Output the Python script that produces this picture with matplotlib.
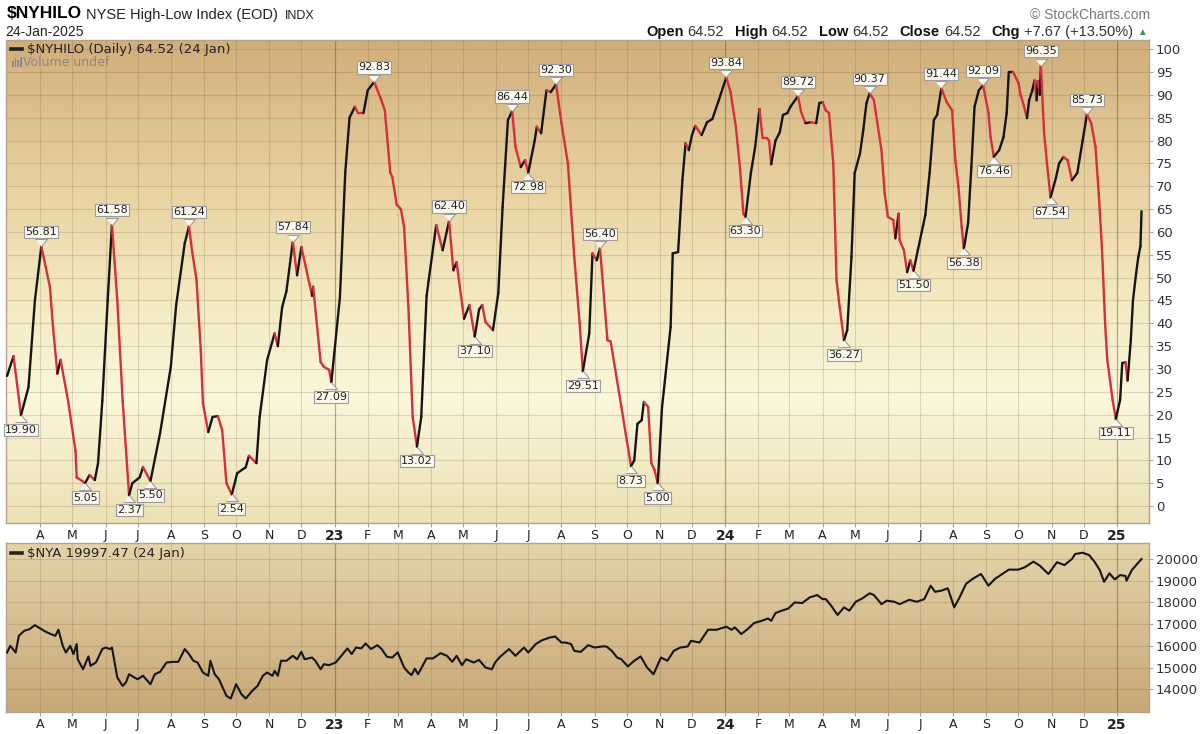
import numpy as np
import pandas as pd
import matplotlib
matplotlib.use('Agg')
import matplotlib.pyplot as plt
import matplotlib.dates as mdates
from matplotlib.collections import LineCollection
from matplotlib.transforms import offset_copy
from matplotlib.lines import Line2D
from matplotlib.patches import Rectangle

# ---------------- data ----------------
hilo_dates = [
    "2022-03-01", "2022-03-07", "2022-03-14", "2022-03-21", "2022-03-27", "2022-04-02", "2022-04-10",
    "2022-04-13", "2022-04-17", "2022-04-20", "2022-04-27", "2022-05-04", "2022-05-05", "2022-05-13",
    "2022-05-17", "2022-05-22", "2022-05-25", "2022-05-29", "2022-06-03", "2022-06-07", "2022-06-12",
    "2022-06-17", "2022-06-23", "2022-06-26", "2022-07-03", "2022-07-06", "2022-07-13", "2022-07-22",
    "2022-08-01", "2022-08-06", "2022-08-14", "2022-08-18", "2022-08-21", "2022-08-25", "2022-08-29",
    "2022-08-31", "2022-09-05", "2022-09-09", "2022-09-14", "2022-09-18", "2022-09-22", "2022-09-27",
    "2022-10-02", "2022-10-10", "2022-10-13", "2022-10-20", "2022-10-23", "2022-10-30", "2022-11-06",
    "2022-11-09", "2022-11-13", "2022-11-17", "2022-11-23", "2022-11-27", "2022-12-01", "2022-12-11",
    "2022-12-12", "2022-12-19", "2022-12-22", "2022-12-27", "2022-12-29", "2023-01-06", "2023-01-11",
    "2023-01-15", "2023-01-20", "2023-01-23", "2023-01-28", "2023-02-01", "2023-02-07", "2023-02-13",
    "2023-02-17", "2023-02-22", "2023-02-24", "2023-02-28", "2023-03-04", "2023-03-07", "2023-03-11",
    "2023-03-15", "2023-03-19", "2023-03-23", "2023-03-28", "2023-03-30", "2023-04-06", "2023-04-12",
    "2023-04-18", "2023-04-22", "2023-04-25", "2023-05-02", "2023-05-07", "2023-05-12", "2023-05-16",
    "2023-05-19", "2023-05-22", "2023-05-29", "2023-06-03", "2023-06-07", "2023-06-12", "2023-06-16",
    "2023-06-19", "2023-06-24", "2023-06-28", "2023-07-01", "2023-07-07", "2023-07-09", "2023-07-13",
    "2023-07-18", "2023-07-22", "2023-07-27", "2023-08-01", "2023-08-07", "2023-08-13", "2023-08-18",
    "2023-08-21", "2023-08-27", "2023-08-30", "2023-09-03", "2023-09-06", "2023-09-13", "2023-09-16",
    "2023-09-26", "2023-10-01", "2023-10-05", "2023-10-08", "2023-10-11", "2023-10-15", "2023-10-17",
    "2023-10-21", "2023-10-24", "2023-10-27", "2023-10-30", "2023-11-03", "2023-11-06", "2023-11-11",
    "2023-11-13", "2023-11-18", "2023-11-22", "2023-11-25", "2023-11-28", "2023-12-01", "2023-12-04",
    "2023-12-10", "2023-12-15", "2023-12-20", "2023-12-26", "2024-01-02", "2024-01-06", "2024-01-11",
    "2024-01-15", "2024-01-18", "2024-01-20", "2024-01-25", "2024-01-29", "2024-02-02", "2024-02-05",
    "2024-02-09", "2024-02-11", "2024-02-13", "2024-02-17", "2024-02-21", "2024-02-24", "2024-02-28",
    "2024-03-02", "2024-03-09", "2024-03-12", "2024-03-16", "2024-03-21", "2024-03-26", "2024-03-29",
    "2024-04-01", "2024-04-04", "2024-04-07", "2024-04-11", "2024-04-14", "2024-04-17", "2024-04-21",
    "2024-04-24", "2024-04-28", "2024-05-01", "2024-05-06", "2024-05-09", "2024-05-12", "2024-05-15",
    "2024-05-19", "2024-05-26", "2024-05-29", "2024-06-01", "2024-06-06", "2024-06-08", "2024-06-11",
    "2024-06-12", "2024-06-16", "2024-06-19", "2024-06-22", "2024-06-25", "2024-06-29", "2024-07-04",
    "2024-07-06", "2024-07-10", "2024-07-14", "2024-07-17", "2024-07-21", "2024-07-26", "2024-07-31",
    "2024-08-03", "2024-08-06", "2024-08-09", "2024-08-11", "2024-08-15", "2024-08-18", "2024-08-21",
    "2024-08-25", "2024-08-29", "2024-09-03", "2024-09-05", "2024-09-08", "2024-09-13", "2024-09-17",
    "2024-09-20", "2024-09-22", "2024-09-26", "2024-10-01", "2024-10-03", "2024-10-06", "2024-10-09",
    "2024-10-11", "2024-10-14", "2024-10-16", "2024-10-18", "2024-10-19", "2024-10-21", "2024-10-22",
    "2024-10-25", "2024-10-28", "2024-10-31", "2024-11-05", "2024-11-08", "2024-11-12", "2024-11-16",
    "2024-11-20", "2024-11-25", "2024-11-30", "2024-12-04", "2024-12-08", "2024-12-12", "2024-12-15",
    "2024-12-18", "2024-12-21", "2024-12-23", "2024-12-28", "2024-12-31", "2025-01-04", "2025-01-06",
    "2025-01-09", "2025-01-11", "2025-01-14", "2025-01-16", "2025-01-19", "2025-01-21", "2025-01-23",
    "2025-01-24",
]
hilo_values = [
    28.5, 32.8, 19.90, 26.0, 45.0, 56.81, 48.0,
    39.0, 29.0, 32.0, 23.0, 12.0, 6.3, 5.05,
    6.8, 5.7, 9.4, 23.0, 45.0, 61.58, 45.0,
    23.0, 2.37, 5.0, 6.3, 8.5, 5.50, 16.0,
    30.5, 44.0, 57.5, 61.24, 55.6, 49.5, 34.0,
    22.5, 16.2, 19.5, 19.7, 16.6, 5.0, 2.54,
    7.2, 8.5, 11.0, 9.4, 19.5, 32.0, 37.8,
    35.0, 43.5, 47.0, 57.84, 50.5, 56.7, 46.0,
    48.0, 31.5, 30.5, 29.8, 27.09, 45.7, 73.0,
    85.0, 87.4, 86.0, 86.0, 91.0, 92.83, 89.3,
    86.6, 73.0, 72.0, 66.0, 65.0, 61.0, 43.5,
    19.5, 13.02, 19.5, 46.0, 49.5, 61.5, 56.0,
    62.40, 51.6, 53.4, 41.0, 44.0, 37.10, 43.0,
    44.0, 40.3, 38.5, 46.6, 65.4, 84.5, 86.44,
    78.6, 74.2, 75.7, 72.98, 80.0, 83.0, 81.6,
    91.0, 90.6, 92.30, 83.8, 75.0, 54.5, 40.0,
    29.51, 37.8, 55.3, 53.8, 56.40, 36.3, 36.0,
    21.7, 14.4, 8.73, 10.0, 18.0, 18.8, 22.8,
    21.7, 9.4, 7.9, 5.00, 21.7, 28.2, 39.2,
    55.3, 55.6, 71.3, 79.4, 77.9, 81.2, 83.2,
    81.2, 84.0, 84.7, 88.8, 93.84, 90.6, 83.0,
    73.5, 64.0, 63.30, 72.9, 78.6, 86.9, 80.5,
    80.5, 80.0, 74.8, 80.0, 81.8, 85.6, 86.0,
    87.4, 89.72, 86.2, 83.8, 84.0, 83.8, 88.2,
    88.4, 86.6, 86.0, 75.0, 49.5, 43.5, 36.27,
    38.5, 54.5, 72.9, 77.2, 82.3, 88.2, 90.37,
    88.8, 77.9, 68.5, 63.3, 62.6, 58.6, 64.0,
    58.2, 56.0, 51.2, 53.8, 51.50, 56.0, 61.5,
    63.7, 72.9, 84.5, 85.6, 91.44, 88.4, 86.6,
    75.7, 69.8, 61.0, 56.38, 62.0, 74.2, 87.4,
    91.0, 92.09, 86.0, 80.7, 76.46, 77.9, 80.7,
    86.0, 95.0, 95.0, 92.6, 90.0, 87.7, 84.9,
    88.8, 91.0, 93.2, 88.8, 93.0, 90.0, 96.35,
    81.6, 74.2, 67.54, 71.8, 75.0, 76.4, 75.7,
    71.3, 72.9, 80.0, 85.73, 83.8, 78.6, 68.5,
    56.7, 40.0, 32.0, 23.2, 19.11, 23.2, 31.3,
    31.5, 27.5, 36.3, 45.0, 51.0, 54.5, 56.85,
    64.52,
]

nya_dates = [
    "2022-03-01", "2022-03-04", "2022-03-09", "2022-03-12", "2022-03-17", "2022-03-22", "2022-03-27",
    "2022-04-01", "2022-04-06", "2022-04-11", "2022-04-15", "2022-04-18", "2022-04-22", "2022-04-25",
    "2022-04-29", "2022-05-02", "2022-05-05", "2022-05-06", "2022-05-11", "2022-05-16", "2022-05-18",
    "2022-05-23", "2022-05-29", "2022-06-01", "2022-06-05", "2022-06-07", "2022-06-10", "2022-06-12",
    "2022-06-17", "2022-06-20", "2022-06-23", "2022-06-28", "2022-07-01", "2022-07-06", "2022-07-13",
    "2022-07-17", "2022-07-22", "2022-07-28", "2022-08-03", "2022-08-08", "2022-08-14", "2022-08-18",
    "2022-08-22", "2022-08-26", "2022-08-31", "2022-09-05", "2022-09-07", "2022-09-11", "2022-09-15",
    "2022-09-22", "2022-09-26", "2022-10-01", "2022-10-06", "2022-10-10", "2022-10-16", "2022-10-21",
    "2022-10-26", "2022-10-30", "2022-11-04", "2022-11-06", "2022-11-09", "2022-11-12", "2022-11-17",
    "2022-11-23", "2022-11-27", "2022-12-01", "2022-12-04", "2022-12-11", "2022-12-14", "2022-12-19",
    "2022-12-22", "2022-12-27", "2023-01-02", "2023-01-06", "2023-01-13", "2023-01-17", "2023-01-21",
    "2023-01-26", "2023-01-30", "2023-02-04", "2023-02-10", "2023-02-14", "2023-02-19", "2023-02-24",
    "2023-03-01", "2023-03-07", "2023-03-11", "2023-03-14", "2023-03-17", "2023-03-20", "2023-03-28",
    "2023-04-03", "2023-04-10", "2023-04-16", "2023-04-21", "2023-04-25", "2023-04-30", "2023-05-04",
    "2023-05-11", "2023-05-16", "2023-05-22", "2023-05-28", "2023-05-31", "2023-06-05", "2023-06-13",
    "2023-06-19", "2023-06-27", "2023-07-01", "2023-07-08", "2023-07-14", "2023-07-21", "2023-07-26",
    "2023-08-01", "2023-08-05", "2023-08-10", "2023-08-13", "2023-08-19", "2023-08-26", "2023-09-01",
    "2023-09-08", "2023-09-12", "2023-09-17", "2023-09-22", "2023-09-26", "2023-10-02", "2023-10-08",
    "2023-10-14", "2023-10-20", "2023-10-26", "2023-11-02", "2023-11-08", "2023-11-14", "2023-11-20",
    "2023-11-27", "2023-11-30", "2023-12-08", "2023-12-16", "2023-12-24", "2024-01-02", "2024-01-07",
    "2024-01-10", "2024-01-16", "2024-01-22", "2024-01-28", "2024-02-04", "2024-02-10", "2024-02-13",
    "2024-02-17", "2024-02-23", "2024-02-29", "2024-03-06", "2024-03-13", "2024-03-20", "2024-03-27",
    "2024-04-01", "2024-04-04", "2024-04-09", "2024-04-15", "2024-04-21", "2024-04-26", "2024-05-02",
    "2024-05-08", "2024-05-15", "2024-05-19", "2024-05-26", "2024-05-31", "2024-06-07", "2024-06-12",
    "2024-06-21", "2024-06-28", "2024-07-05", "2024-07-11", "2024-07-15", "2024-07-21", "2024-07-27",
    "2024-08-02", "2024-08-07", "2024-08-13", "2024-08-19", "2024-08-27", "2024-09-03", "2024-09-09",
    "2024-09-16", "2024-09-22", "2024-10-01", "2024-10-07", "2024-10-15", "2024-10-21", "2024-10-29",
    "2024-11-06", "2024-11-13", "2024-11-20", "2024-11-23", "2024-11-30", "2024-12-06", "2024-12-11",
    "2024-12-16", "2024-12-20", "2024-12-25", "2024-12-30", "2025-01-04", "2025-01-09", "2025-01-10",
    "2025-01-15", "2025-01-19", "2025-01-24",
]
nya_values = [
    15692, 16000, 15690, 16460, 16690, 16770, 16950,
    16800, 16650, 16540, 16460, 16740, 16000, 15690,
    16000, 15620, 16080, 15380, 14920, 15510, 15080,
    15230, 15850, 15920, 15850, 15920, 15080, 14540,
    14150, 14310, 14690, 14540, 14460, 14620, 14230,
    14690, 14800, 15230, 15260, 15260, 15850, 15620,
    15310, 15230, 14770, 14620, 15310, 14690, 14460,
    13690, 13570, 14230, 13770, 13570, 13920, 14150,
    14620, 14770, 14620, 14850, 14620, 15310, 15310,
    15540, 15380, 15720, 15380, 15460, 15310, 14920,
    15150, 15110, 15230, 15460, 15880, 15620, 15920,
    15880, 16110, 15850, 16030, 15850, 15490, 15460,
    15700, 15000, 14770, 14650, 14950, 14690, 15420,
    15420, 15660, 15540, 15260, 15540, 15110, 15380,
    15230, 15350, 15000, 14920, 15230, 15510, 15850,
    15540, 15920, 15690, 16080, 16260, 16380, 16430,
    16150, 16150, 16080, 15770, 15720, 16030, 15920,
    15970, 15970, 15770, 15460, 15380, 15050, 15310,
    15510, 15000, 14690, 15460, 15310, 15770, 15920,
    15970, 16230, 16150, 16740, 16740, 16880, 16740,
    16850, 16540, 16770, 17050, 17150, 17260, 17150,
    17510, 17620, 17720, 18000, 17970, 18230, 18340,
    18150, 18150, 17850, 17420, 17770, 17620, 18030,
    18180, 18420, 18340, 17920, 18080, 18030, 17920,
    18120, 18030, 18150, 18770, 18490, 18540, 18650,
    17770, 18230, 18850, 19080, 19310, 18770, 19080,
    19310, 19510, 19510, 19620, 19880, 19690, 19310,
    19850, 19720, 20000, 20230, 20290, 20180, 19880,
    19490, 18950, 19340, 19060, 19260, 19220, 19000,
    19490, 19720, 19997.47,
]

label_dates = ["2022-03-14", "2022-04-02", "2022-05-13", "2022-06-07", "2022-06-23", "2022-07-13",
               "2022-08-18", "2022-09-27", "2022-11-23", "2022-12-29", "2023-02-07", "2023-03-19",
               "2023-04-18", "2023-05-12", "2023-06-16", "2023-07-01", "2023-07-27", "2023-08-21",
               "2023-09-06", "2023-10-05", "2023-10-30", "2024-01-02", "2024-01-20", "2024-03-09",
               "2024-04-21", "2024-05-15", "2024-06-25", "2024-07-21", "2024-08-11", "2024-08-29",
               "2024-09-08", "2024-10-22", "2024-10-31", "2024-12-04", "2024-12-31"]
label_values = [19.90, 56.81, 5.05, 61.58, 2.37, 5.50, 61.24, 2.54, 57.84, 27.09, 92.83, 13.02,
                62.40, 37.10, 86.44, 72.98, 92.30, 29.51, 56.40, 8.73, 5.00, 93.84, 63.30, 89.72,
                36.27, 90.37, 51.50, 91.44, 56.38, 92.09, 76.46, 96.35, 67.54, 85.73, 19.11]
label_sides = ["b", "t", "b", "t", "b", "b", "t", "b", "t", "b", "t", "b",
               "t", "b", "t", "b", "t", "b", "t", "b", "b", "t", "b", "t",
               "b", "t", "b", "t", "b", "t", "b", "t", "b", "t", "b"]

month_tick_dates = pd.date_range("2022-04-01", "2025-01-01", freq="MS")
month_labels = ["A", "M", "J", "J", "A", "S", "O", "N", "D",
                "23", "F", "M", "A", "M", "J", "J", "A", "S", "O", "N", "D",
                "24", "F", "M", "A", "M", "J", "J", "A", "S", "O", "N", "D",
                "25"]
hilo_ticks = list(range(0, 101, 5))
nya_ticks = list(range(14000, 20001, 1000))

# ---------------- figure ----------------
W, H = 1200, 734
fig = plt.figure(figsize=(W / 100, H / 100), dpi=100)
fig.patch.set_facecolor("white")


def fx(x):
    return x / W


def fy(y):
    return 1 - y / H


ax1 = fig.add_axes([fx(6), fy(523), fx(1149) - fx(6), fy(40) - fy(523)])
ax2 = fig.add_axes([fx(6), fy(712), fx(1149) - fx(6), fy(543) - fy(712)])


def gradient(ax, stops):
    pos = [s[0] for s in stops]
    cols = [np.array(s[1]) / 255.0 for s in stops]
    t = np.linspace(0, 1, 400)
    arr = np.zeros((400, 1, 3))
    for c in range(3):
        arr[:, 0, c] = np.interp(t, pos, [col[c] for col in cols])
    ax.imshow(arr, extent=[0, 1, 0, 1], transform=ax.transAxes, aspect="auto",
              zorder=0, interpolation="bilinear")


gradient(ax1, [(0.0, (209, 174, 122)), (0.33, (234, 213, 165)), (0.54, (244, 234, 193)),
               (0.74, (251, 247, 220)), (1.0, (236, 224, 180))])
gradient(ax2, [(0.0, (228, 212, 168)), (1.0, (200, 167, 120))])

xmin = mdates.date2num(pd.Timestamp("2022-02-28"))
xmax = mdates.date2num(pd.Timestamp("2025-01-31"))
tick_x = mdates.date2num(month_tick_dates)

RED = "#d42f3a"
BLACK = "#151515"

# HILO line coloured by direction
xd = mdates.date2num(pd.to_datetime(hilo_dates))
yv = np.array(hilo_values, dtype=float)
pts = np.column_stack([xd, yv])
segs = np.stack([pts[:-1], pts[1:]], axis=1)
seg_cols = []
cur = BLACK
for d in np.diff(yv):
    if d < 0:
        cur = RED
    elif d > 0:
        cur = BLACK
    seg_cols.append(cur)
lc = LineCollection(segs, colors=seg_cols, linewidths=1.7, capstyle="round",
                    joinstyle="round", zorder=3)
ax1.add_collection(lc)

# NYA line
ax2.plot(mdates.date2num(pd.to_datetime(nya_dates)), nya_values, color=BLACK, lw=1.5,
         zorder=3, solid_joinstyle="round")

# labels
box_fc = "#fbf9ee"
box_ec = "#9c9c9c"
for d, v, side in zip(label_dates, label_values, label_sides):
    x = mdates.date2num(pd.Timestamp(d))
    if side == "t":
        tri = [(-6, 0), (6, 0), (0, -7)]
        off, toff = 7, 14.5
    else:
        tri = [(-6, 0), (6, 0), (0, 7)]
        off, toff = -7, -14.5
    ax1.plot([x], [v], marker=tri, ms=10.08, mfc=box_fc, mec=box_ec, mew=0.8,
             transform=offset_copy(ax1.transData, fig=fig, x=0, y=off, units="dots"),
             zorder=5, clip_on=False, linestyle="none")
    ax1.text(x, v, f"{v:.2f}", ha="center", va="center", fontsize=8, color="#222222",
             transform=offset_copy(ax1.transData, fig=fig, x=0, y=toff, units="dots"),
             bbox=dict(boxstyle="square,pad=0.1", fc=box_fc, ec=box_ec, lw=0.8),
             zorder=6, clip_on=False)

grid_rgb = (0.45, 0.35, 0.22)
year_col = (0.45, 0.35, 0.22, 0.38)
for ax, ylim, yt in ((ax1, (-3.7, 102.0), hilo_ticks), (ax2, (12950, 20737), nya_ticks)):
    ax.set_xlim(xmin, xmax)
    ax.set_ylim(*ylim)
    ax.set_xticks(tick_x)
    ax.set_xticklabels(month_labels)
    ax.set_yticks(yt)
    ax.yaxis.tick_right()
    ax.set_axisbelow(True)
    ax.grid(True, color=grid_rgb, alpha=0.2, lw=0.8)
    for lab, tx in zip(month_labels, tick_x):
        if lab.isdigit():
            ax.axvline(tx, color=year_col, lw=0.9, zorder=1)
    ax.tick_params(axis="x", length=3, color="#a0a0a0", labelsize=9, labelcolor="#222222", pad=1.5)
    ax.tick_params(axis="y", length=3, color="#c0a0a0", labelsize=9.5, labelcolor="#333333", pad=2)
    for lab in ax.get_xticklabels():
        if lab.get_text().isdigit():
            lab.set_fontweight("bold")
            lab.set_fontsize(10)
    for sp in ax.spines.values():
        sp.set_color("#b3a28e")
        sp.set_linewidth(1.0)

# ---------------- header texts ----------------
sans = ["Liberation Sans", "DejaVu Sans"]
fig.text(fx(7), fy(14), r"\$NYHILO", fontsize=12.5, fontweight="bold",
         family=["Liberation Sans Narrow", "Liberation Sans", "DejaVu Sans"], va="center", ha="left")
fig.text(fx(86), fy(15), "NYSE High-Low Index (EOD)", fontsize=10.5, family=sans,
         va="center", ha="left", color="#222222")
fig.text(fx(285), fy(16), "INDX", fontsize=9, family=sans, va="center", ha="left", color="#222222")
fig.text(fx(5), fy(32), "24-Jan-2025", fontsize=10, family=sans, va="center", ha="left", color="#222222")
fig.text(fx(1150), fy(15), "© StockCharts.com", fontsize=10, family=sans, va="center", ha="right",
         color="#7a7a7a")

renderer = fig.canvas.get_renderer()
pieces = [("Open", True, "#111111", 4), ("64.52", False, "#333333", 11),
          ("High", True, "#111111", 4), ("64.52", False, "#333333", 11),
          ("Low", True, "#111111", 4), ("64.52", False, "#333333", 11),
          ("Close", True, "#111111", 4), ("64.52", False, "#333333", 11),
          ("Chg", True, "#111111", 4), ("+7.67 (+13.50%)", False, "#333333", 4),
          ("▲", False, "#2e9e3e", 0)]
xpos = 646
for txt, bold, col, gap in pieces:
    t = fig.text(fx(xpos), fy(32), txt, fontsize=10.5 if txt != "▲" else 7,
                 fontweight="bold" if bold else "normal", color=col, family=sans,
                 va="center", ha="left")
    xpos += t.get_window_extent(renderer).width + gap

# in-panel legends
fig.add_artist(Line2D([fx(11), fx(22)], [fy(49), fy(49)], lw=2.6, color="#222222"))
fig.text(fx(27), fy(49), r"\$NYHILO (Daily) 64.52 (24 Jan)", fontsize=9.5, family="DejaVu Sans",
         va="center", ha="left", color="#222222")
for i, hgt in enumerate([6, 9, 7, 10]):
    fig.add_artist(Rectangle((fx(12 + i * 2.6), fy(67)), 1.8 / W, hgt / H, color="#8a8a8a", lw=0))
fig.text(fx(23), fy(63), "Volume undef", fontsize=9, family="DejaVu Sans", va="center",
         ha="left", color="#8a8a8a")

fig.add_artist(Line2D([fx(11), fx(22)], [fy(553), fy(553)], lw=2.6, color="#222222"))
fig.text(fx(27), fy(553), r"\$NYA 19997.47 (24 Jan)", fontsize=9.5, family="DejaVu Sans",
         va="center", ha="left", color="#222222")

fig.savefig("out.png", dpi=100)
